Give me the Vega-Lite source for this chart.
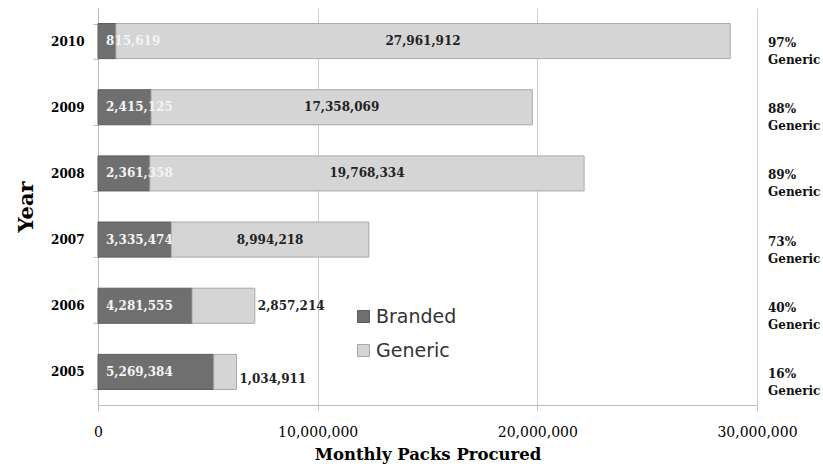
{
  "$schema": "https://vega.github.io/schema/vega-lite/v6.json",
  "width": 659,
  "height": 397,
  "autosize": {"type": "none"},
  "padding": {"left": 98, "top": 8, "right": 66, "bottom": 66},
  "background": "white",
  "config": {"view": {"stroke": null}, "font": "DejaVu Serif"},
  "data": {
    "values": [
      {"year": "2010", "type": "Branded", "packs": 815619},
      {"year": "2010", "type": "Generic", "packs": 27961912, "pct": 97},
      {"year": "2009", "type": "Branded", "packs": 2415125},
      {"year": "2009", "type": "Generic", "packs": 17358069, "pct": 88},
      {"year": "2008", "type": "Branded", "packs": 2361358},
      {"year": "2008", "type": "Generic", "packs": 19768334, "pct": 89},
      {"year": "2007", "type": "Branded", "packs": 3335474},
      {"year": "2007", "type": "Generic", "packs": 8994218, "pct": 73},
      {"year": "2006", "type": "Branded", "packs": 4281555},
      {"year": "2006", "type": "Generic", "packs": 2857214, "pct": 40},
      {"year": "2005", "type": "Branded", "packs": 5269384},
      {"year": "2005", "type": "Generic", "packs": 1034911, "pct": 16}
    ]
  },
  "transform": [
    {"stack": "packs", "groupby": ["year"], "sort": [{"field": "type", "order": "ascending"}], "as": ["x0", "x1"]},
    {"calculate": "(datum.x0 + datum.x1) / 2", "as": "mid"}
  ],
  "encoding": {
    "y": {
      "field": "year",
      "type": "nominal",
      "sort": ["2010", "2009", "2008", "2007", "2006", "2005"],
      "scale": {"paddingInner": 0.47, "paddingOuter": 0.235},
      "axis": {
        "title": "Year",
        "titleFont": "DejaVu Serif",
        "titleFontSize": 21,
        "titleFontWeight": "bold",
        "titleColor": "black",
        "titlePadding": 14,
        "labelFont": "DejaVu Serif",
        "labelFontWeight": "bold",
        "labelFontSize": 12,
        "labelColor": "black",
        "labelPadding": 9,
        "labelAngle": 0,
        "tickBand": "extent",
        "tickSize": 5,
        "tickColor": "#bbbbbb",
        "domainColor": "#bbbbbb",
        "grid": false
      }
    }
  },
  "layer": [
    {
      "mark": {"type": "bar", "strokeWidth": 1},
      "encoding": {
        "x": {
          "field": "x0",
          "type": "quantitative",
          "scale": {"domain": [0, 30000000], "nice": false},
          "axis": {
            "title": "Monthly Packs Procured",
            "values": [0, 10000000, 20000000, 30000000],
            "labelExpr": "format(datum.value, ',')",
            "labelFont": "DejaVu Serif",
            "labelFontSize": 14,
            "labelColor": "black",
            "labelPadding": 15,
            "labelFlush": false,
            "tickSize": 5,
            "tickColor": "#bbbbbb",
            "domainColor": "#bbbbbb",
            "gridColor": "#cfcfcf",
            "titleFont": "DejaVu Serif",
            "titleFontSize": 16.5,
            "titleFontWeight": "bold",
            "titleColor": "black",
            "titlePadding": 7
          }
        },
        "x2": {"field": "x1"},
        "fill": {
          "field": "type",
          "type": "nominal",
          "scale": {"domain": ["Branded", "Generic"], "range": ["#6f6f6f", "#d5d5d5"]},
          "legend": {
            "title": null,
            "orient": "none",
            "legendX": 256,
            "legendY": 299,
            "symbolType": "square",
            "symbolSize": 144,
            "symbolStrokeColor": "#999999",
            "symbolStrokeWidth": 1,
            "labelFont": "DejaVu Sans",
            "labelFontSize": 19,
            "labelColor": "#333333",
            "labelOffset": 3,
            "rowPadding": 14
          }
        },
        "stroke": {
          "field": "type",
          "type": "nominal",
          "scale": {"domain": ["Branded", "Generic"], "range": ["#5c5c5c", "#a8a8a8"]},
          "legend": null
        }
      }
    },
    {
      "transform": [{"filter": "datum.type == 'Branded'"}],
      "mark": {"type": "text", "align": "left", "baseline": "middle", "dx": 8, "fontWeight": "bold", "fontSize": 12, "color": "#f4f4f4", "font": "DejaVu Serif"},
      "encoding": {
        "x": {"datum": 0, "type": "quantitative"},
        "text": {"field": "packs", "type": "quantitative", "format": ","}
      }
    },
    {
      "transform": [{"filter": "datum.type == 'Generic' && datum.packs > 5000000"}],
      "mark": {"type": "text", "align": "center", "baseline": "middle", "fontWeight": "bold", "fontSize": 12, "color": "#222222", "font": "DejaVu Serif"},
      "encoding": {
        "x": {"field": "mid", "type": "quantitative"},
        "text": {"field": "packs", "type": "quantitative", "format": ","}
      }
    },
    {
      "transform": [{"filter": "datum.type == 'Generic' && datum.year == '2006'"}],
      "mark": {"type": "text", "align": "left", "baseline": "middle", "dx": 3, "fontWeight": "bold", "fontSize": 12, "color": "#222222", "font": "DejaVu Serif"},
      "encoding": {
        "x": {"field": "x1", "type": "quantitative"},
        "text": {"field": "packs", "type": "quantitative", "format": ","}
      }
    },
    {
      "transform": [{"filter": "datum.type == 'Generic' && datum.year == '2005'"}],
      "mark": {"type": "text", "align": "left", "baseline": "middle", "dx": 3, "dy": 7, "fontWeight": "bold", "fontSize": 12, "color": "#222222", "font": "DejaVu Serif"},
      "encoding": {
        "x": {"field": "x1", "type": "quantitative"},
        "text": {"field": "packs", "type": "quantitative", "format": ","}
      }
    },
    {
      "transform": [
        {"filter": "datum.type == 'Generic'"},
        {"calculate": "[datum.pct + '%', 'Generic']", "as": "note"}
      ],
      "mark": {"type": "text", "align": "left", "baseline": "middle", "dx": 11, "dy": 2, "lineHeight": 17, "fontWeight": "bold", "fontSize": 12, "color": "#111111", "font": "DejaVu Serif"},
      "encoding": {
        "x": {"datum": 30000000, "type": "quantitative"},
        "text": {"field": "note"}
      }
    }
  ]
}
